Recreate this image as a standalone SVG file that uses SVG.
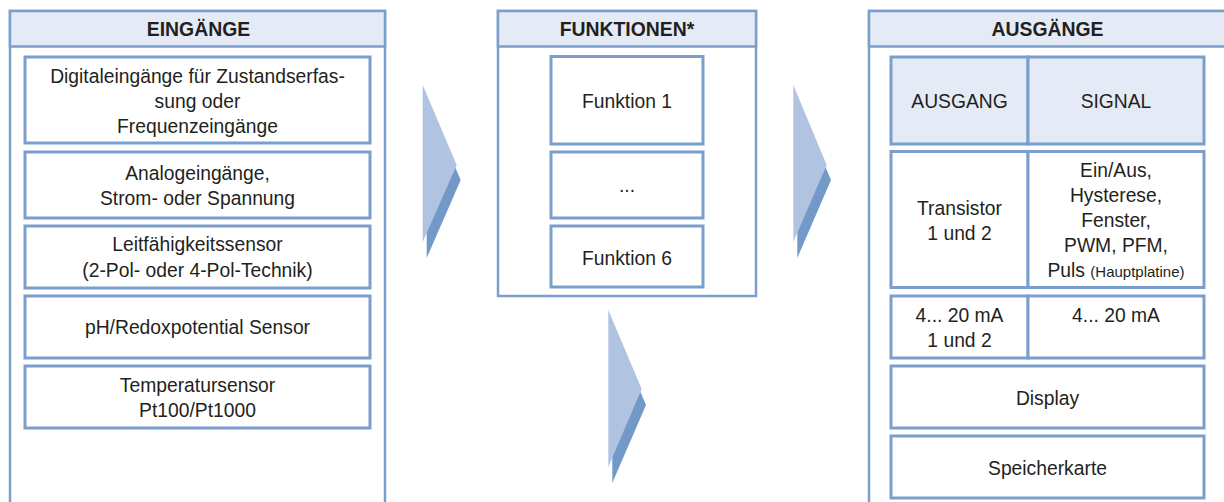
<svg xmlns="http://www.w3.org/2000/svg" width="1224" height="502" viewBox="0 0 1224 502">
<style>
.panel{fill:#ffffff;stroke:#7a9fcc;stroke-width:2.5}
.head{fill:#e4ebf6;stroke:#7a9fcc;stroke-width:2.5}
.box{fill:#ffffff;stroke:#7a9fcc;stroke-width:3}
.hbox{fill:#e4ebf6;stroke:#7a9fcc;stroke-width:3}
text{font-family:"Liberation Sans",Arial,sans-serif;font-size:19.3px;fill:#231f20;text-anchor:middle}
.h{font-weight:bold;font-size:19.4px}
.s{font-size:15px}
.al{fill:#b0c4e1}
.ad{fill:#7299c7}
</style>
<rect width="1224" height="502" fill="#ffffff"/>

<g id="eingaenge">
<rect class="panel" x="10" y="11" width="375" height="500"/>
<rect class="head" x="10" y="11" width="375" height="35.5"/>
<text class="h" x="198.5" y="36">EINGÄNGE</text>
</g>
<g id="in-digital">
<rect class="box" x="25" y="57" width="345" height="86"/>
<text x="197.5" y="83">Digitaleingänge für Zustandserfas-</text>
<text x="197.5" y="108">sung oder</text>
<text x="197.5" y="133">Frequenzeingänge</text>
</g>
<g id="in-analog">
<rect class="box" x="25" y="152" width="345" height="66"/>
<text x="197.5" y="179.5">Analogeingänge,</text>
<text x="197.5" y="205">Strom- oder Spannung</text>
</g>
<g id="in-leit">
<rect class="box" x="25" y="226" width="345" height="62"/>
<text x="197.5" y="251">Leitfähigkeitssensor</text>
<text x="197.5" y="276.5">(2-Pol- oder 4-Pol-Technik)</text>
</g>
<g id="in-ph">
<rect class="box" x="25" y="296" width="345" height="62"/>
<text x="197.5" y="334">pH/Redoxpotential Sensor</text>
</g>
<g id="in-temp">
<rect class="box" x="25" y="366" width="345" height="62"/>
<text x="197.5" y="391.5">Temperatursensor</text>
<text x="197.5" y="416.5">Pt100/Pt1000</text>
</g>

<g id="funktionen">
<rect class="panel" x="498" y="11" width="258" height="285"/>
<rect class="head" x="498" y="11" width="258" height="35.5"/>
<text class="h" x="627" y="36">FUNKTIONEN*</text>
</g>
<g id="f1">
<rect class="box" x="551" y="56.5" width="152" height="87.5"/>
<text x="627" y="108">Funktion 1</text>
</g>
<g id="fdots">
<rect class="box" x="551" y="152" width="152" height="66"/>
<text x="627" y="191.5">...</text>
</g>
<g id="f6">
<rect class="box" x="551" y="226" width="152" height="61"/>
<text x="627" y="265">Funktion 6</text>
</g>

<g id="ausgaenge">
<rect class="panel" x="869" y="11" width="400" height="500"/>
<rect class="head" x="869" y="11" width="400" height="35.5"/>
<text class="h" x="1047.5" y="36">AUSGÄNGE</text>
</g>
<g id="out-head">
<rect class="hbox" x="891" y="57" width="137" height="87"/>
<rect class="hbox" x="1028" y="57" width="176" height="87"/>
<text x="959.5" y="108">AUSGANG</text>
<text x="1116" y="108">SIGNAL</text>
</g>
<g id="out-transistor">
<rect class="box" x="891" y="151.5" width="137" height="136"/>
<rect class="box" x="1028" y="151.5" width="176" height="136"/>
<text x="959.5" y="215">Transistor</text>
<text x="959.5" y="240">1 und 2</text>
<text x="1116" y="176.5">Ein/Aus,</text>
<text x="1116" y="201.5">Hysterese,</text>
<text x="1116" y="226.5">Fenster,</text>
<text x="1116" y="252">PWM, PFM,</text>
<text x="1116" y="277">Puls <tspan class="s">(Hauptplatine)</tspan></text>
</g>
<g id="out-strom">
<rect class="box" x="891" y="296" width="137" height="62"/>
<rect class="box" x="1028" y="296" width="176" height="62"/>
<text x="959.5" y="321.5">4... 20 mA</text>
<text x="959.5" y="346.5">1 und 2</text>
<text x="1116" y="321.5">4... 20 mA</text>
</g>
<g id="out-display">
<rect class="box" x="891" y="366" width="313" height="62"/>
<text x="1047.5" y="405">Display</text>
</g>
<g id="out-karte">
<rect class="box" x="891" y="436" width="313" height="62"/>
<text x="1047.5" y="475">Speicherkarte</text>
</g>

<g id="connectors">
<polygon class="ad" points="426.7,101 460.7,180 426.7,258"/>
<polygon class="al" points="422.7,85 456.7,165 422.7,242"/>
<polygon class="ad" points="797.3,101 831,180 797.3,258"/>
<polygon class="al" points="793.3,85 826.7,165 793.3,242"/>
<polygon class="ad" points="612.3,326 646,405 612.3,483"/>
<polygon class="al" points="608.3,310 641.7,389 608.3,467"/>
</g>
</svg>
